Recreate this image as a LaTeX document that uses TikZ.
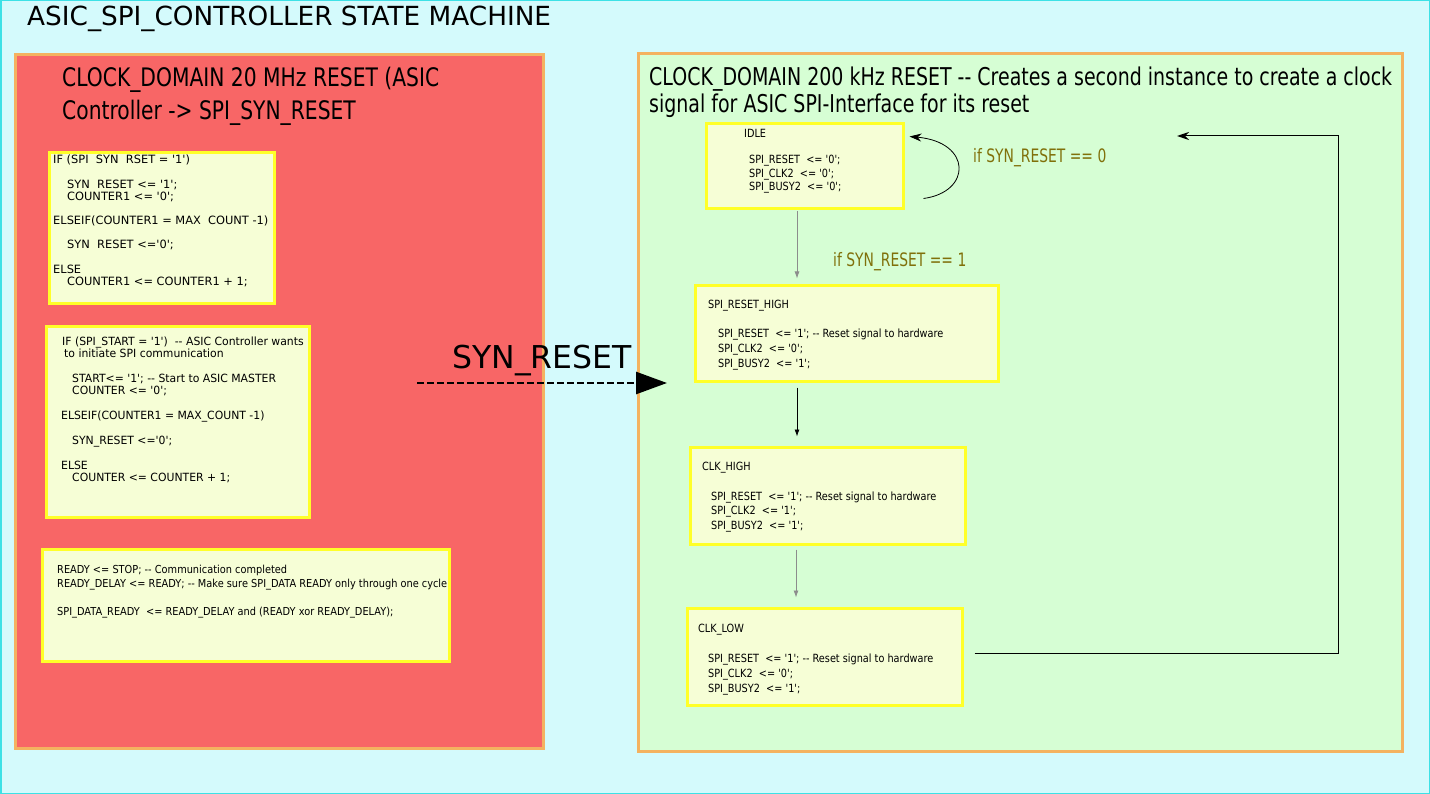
\documentclass[tikz,border=0pt]{standalone}
\usepackage{fontspec}
\usetikzlibrary{arrows.meta}
\newfontfamily\fwide{DejaVu Sans}
\newfontfamily\fbtwo[FakeStretch=0.96]{DejaVu Sans}
\newfontfamily\fbthree[FakeStretch=0.89]{DejaVu Sans}
\newfontfamily\fstate[FakeStretch=0.86]{DejaVu Sans}
\newfontfamily\fhead[FakeStretch=0.775]{DejaVu Sans}
\newfontfamily\fheadr[FakeStretch=0.795]{DejaVu Sans}
\newfontfamily\flab[FakeStretch=0.75]{DejaVu Sans}
\newcommand\codelines[1]{\begin{tabular}[t]{@{}l@{}}#1\end{tabular}}
\definecolor{bgcyan}{RGB}{212,250,252}
\definecolor{cyanline}{RGB}{60,225,230}
\definecolor{redfill}{RGB}{248,102,102}
\definecolor{greenfill}{RGB}{214,254,212}
\definecolor{orangeline}{RGB}{244,178,96}
\definecolor{yline}{RGB}{255,255,40}
\definecolor{yfill}{RGB}{246,254,214}
\definecolor{olive}{RGB}{128,112,10}
\definecolor{grayline}{RGB}{140,140,140}
\tikzset{
  domainbox/.style={draw=orangeline, line width=3pt, inner sep=0pt, outer sep=0pt, anchor=north west},
  ybox/.style={draw=yline, fill=yfill, line width=3pt, inner sep=0pt, outer sep=0pt, anchor=north west},
  txt/.style={inner sep=0pt, anchor=base west, text=black},
  tip/.style={-{Latex[length=7pt,width=5pt]}},
}
\begin{document}
\begin{tikzpicture}[x=1pt,y=-1pt]
\useasboundingbox (0,0) rectangle (1430,794);
\fill[bgcyan] (0,0) rectangle (1430,794);
\draw[cyanline, line width=1.5pt] (0.75,0.75) rectangle (1429.25,793.25);

\node[txt, font={\fwide\fontsize{26.3}{30}\selectfont}] (title) at (27,25.5) {ASIC\_SPI\_CONTROLLER STATE MACHINE};

% domains
\node[domainbox, fill=redfill, minimum width=528pt, minimum height=694pt] (red) at (15.5,54.5) {};
\node[domainbox, fill=greenfill, minimum width=764pt, minimum height=698pt] (green) at (638.5,53.5) {};

\node[txt, font={\fheadr\fontsize{25.5}{33}\selectfont}] (redhead) at (62,86.5)
  {\codelines{CLOCK\_DOMAIN 20 MHz RESET (ASIC\\Controller -> SPI\_SYN\_RESET}};
\node[txt, font={\fhead\fontsize{24.5}{25}\selectfont}] (greenhead) at (649,86)
  {\codelines{CLOCK\_DOMAIN 200 kHz RESET -{}- Creates a second instance to create a clock\\signal for ASIC SPI-Interface for its reset}};

% left code boxes
\node[ybox, minimum width=225pt, minimum height=151pt] (b1) at (49.5,152.5) {};
\node[txt, font={\fwide\fontsize{11.4}{12.1}\selectfont}] (b1t) at (53,164)
  {\codelines{IF (SPI\ \ SYN\ \ RSET = '1')\\ \\
  \hspace*{14pt}SYN\ \ RESET <= '1';\\
  \hspace*{14pt}COUNTER1 <= '0';\\ \\
  ELSEIF(COUNTER1 = MAX\ \ COUNT -1)\\ \\
  \hspace*{14pt}SYN\ \ RESET <='0';\\ \\
  ELSE\\
  \hspace*{14pt}COUNTER1 <= COUNTER1 + 1;}};

\node[ybox, minimum width=263pt, minimum height=191pt] (b2) at (46.5,326.5) {};
\node[txt, font={\fbtwo\fontsize{11.3}{12.45}\selectfont}] (b2t) at (61,345)
  {\codelines{\hspace*{1pt}IF (SPI\_START = '1')\ \ -{}- ASIC Controller wants\\
  \hspace*{3pt}to initiate SPI communication\\ \\
  \hspace*{11pt}START<= '1'; -{}- Start to ASIC MASTER\\
  \hspace*{11pt}COUNTER <= '0';\\ \\
  ELSEIF(COUNTER1 = MAX\_COUNT -1)\\ \\
  \hspace*{11pt}SYN\_RESET <='0';\\ \\
  ELSE\\
  \hspace*{11pt}COUNTER <= COUNTER + 1;}};

\node[ybox, minimum width=407pt, minimum height=112pt] (b3) at (42.5,549.5) {};
\node[txt, font={\fbthree\fontsize{11}{14.3}\selectfont}] (b3t) at (57,573)
  {\codelines{READY <= STOP; -{}- Communication completed\\
  READY\_DELAY <= READY; -{}- Make sure SPI\_DATA READY only through one cycle\\ \\
  SPI\_DATA\_READY\ \ <= READY\_DELAY and (READY xor READY\_DELAY);}};

% state boxes
\node[ybox, minimum width=197pt, minimum height=85pt] (idle) at (706.5,123.5) {};
\node[txt, font={\fstate\fontsize{11.3}{13.2}\selectfont}] (idlet) at (744,137.5)
  {\codelines{IDLE\\ \\
  \hspace*{5pt}SPI\_RESET\ \ <= '0';\\
  \hspace*{5pt}SPI\_CLK2\ \ <= '0';\\
  \hspace*{5pt}SPI\_BUSY2\ \ <= '0';}};

\node[ybox, minimum width=303pt, minimum height=96pt] (spih) at (695.5,285.5) {};
\node[txt, font={\fstate\fontsize{11.3}{14.7}\selectfont}] (spiht) at (708,308.5)
  {\codelines{SPI\_RESET\_HIGH\\ \\
  \hspace*{10pt}SPI\_RESET\ \ <= '1'; -{}- Reset signal to hardware\\
  \hspace*{10pt}SPI\_CLK2\ \ <= '0';\\
  \hspace*{10pt}SPI\_BUSY2\ \ <= '1';}};

\node[ybox, minimum width=275pt, minimum height=97pt] (clkh) at (690.5,447.5) {};
\node[txt, font={\fstate\fontsize{11.3}{14.8}\selectfont}] (clkht) at (702,470.5)
  {\codelines{CLK\_HIGH\\ \\
  \hspace*{9pt}SPI\_RESET\ \ <= '1'; -{}- Reset signal to hardware\\
  \hspace*{9pt}SPI\_CLK2\ \ <= '1';\\
  \hspace*{9pt}SPI\_BUSY2\ \ <= '1';}};

\node[ybox, minimum width=275pt, minimum height=97pt] (clkl) at (687.5,608.5) {};
\node[txt, font={\fstate\fontsize{11.3}{15}\selectfont}] (clklt) at (698,632.5)
  {\codelines{CLK\_LOW\\ \\
  \hspace*{10pt}SPI\_RESET\ \ <= '1'; -{}- Reset signal to hardware\\
  \hspace*{10pt}SPI\_CLK2\ \ <= '0';\\
  \hspace*{10pt}SPI\_BUSY2\ \ <= '1';}};

% transitions
\draw[tip, grayline, line width=0.8pt, shorten <=3pt, shorten >=7pt] ([xshift=-8pt]idle.south) -- ([xshift=-50pt]spih.north);
\draw[tip, line width=0.8pt, shorten <=6pt, shorten >=11pt] ([xshift=-50pt]spih.south) -- ([xshift=-31pt]clkh.north);
\draw[tip, grayline, line width=0.8pt, shorten <=5pt, shorten >=11pt] ([xshift=-32pt]clkh.south) -- ([xshift=-29pt]clkl.north);

\node[txt, text=olive, font={\flab\fontsize{18.5}{20}\selectfont}] (lbl1) at (833,267) {if SYN\_RESET == 1};
\node[txt, text=olive, font={\flab\fontsize{18.5}{20}\selectfont}] (lbl0) at (973,163) {if SYN\_RESET == 0};

% self loop on IDLE
\draw[-{Stealth[length=12pt,width=8pt]}, line width=0.8pt]
  ([xshift=20pt,yshift=10pt]idle.south east) .. controls (972,192) and (972,142) .. ([xshift=6pt,yshift=-13pt]idle.north east);

% return from CLK_LOW to top
\coordinate (retA) at (1338,653);
\coordinate (retB) at (1338,136);
\coordinate (retEnd) at (1177,136);
\draw[-{Stealth[length=12pt,width=8pt]}, line width=1pt]
  ([xshift=12pt]clkl.east |- retA) -- (retA) -- (retB) -- (retEnd);

% SYN_RESET signal
\coordinate (synA) at (417,383);
\coordinate (synB) at (667,383);
\draw[-{Triangle[length=31pt,width=22pt]}, line width=2.5pt, dash pattern=on 7pt off 3pt] (synA) -- (synB);
\node[txt, font={\fwide\fontsize{31.5}{34}\selectfont}] (synlbl) at (452,368) {SYN\_RESET};
\end{tikzpicture}
\end{document}
